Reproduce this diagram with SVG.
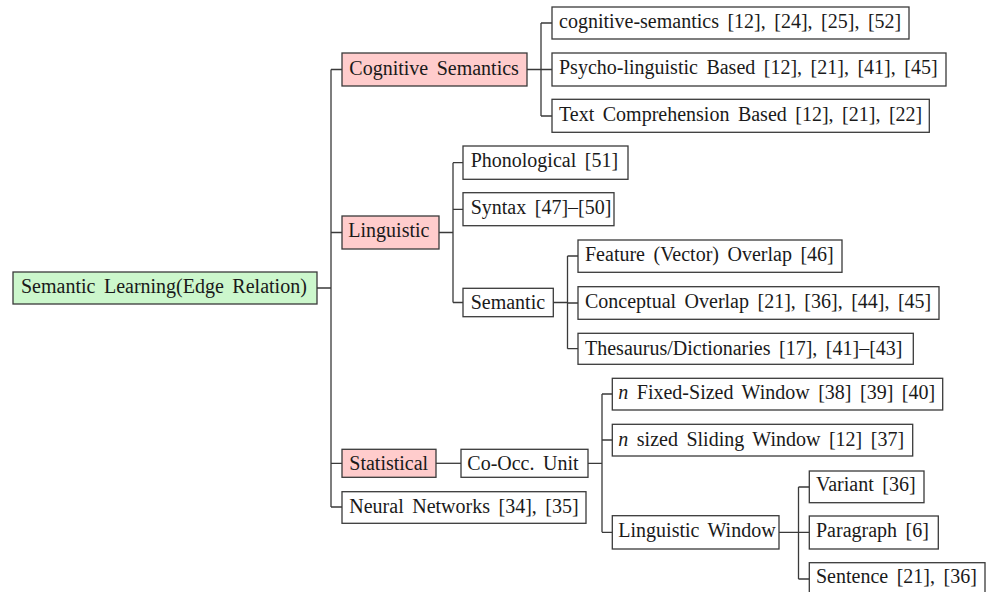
<svg xmlns="http://www.w3.org/2000/svg" width="994" height="592" viewBox="0 0 994 592">
<style>
  .n rect { fill: #ffffff; stroke: #3a3a3a; stroke-width: 1.3; }
  .n.red rect { fill: #ffcccc; }
  .n.green rect { fill: #ccf7cc; }
  .n text { font-family: "Liberation Serif", "Times New Roman", serif; font-size: 20px; word-spacing: 3.5px; fill: #1a1a1a; }
  .e path { fill: none; stroke: #3a3a3a; stroke-width: 1.3; }
  .i { font-style: italic; }
</style>
<rect width="994" height="592" fill="#ffffff"/>
<g class="e" id="connectors">
  <path d="M317,288 H331 M331,69.5 V507 M331,69.5 H342 M331,232.5 H342 M331,463.3 H342 M331,507 H342"/>
  <path d="M527,69.5 H541 M541,23 V116 M541,23 H552 M541,69.5 H552 M541,116 H552"/>
  <path d="M439,232.5 H453 M453,162.7 V302.5 M453,162.7 H463 M453,209.3 H463 M453,302.5 H463"/>
  <path d="M553,302.5 H567.5 M567.5,256 V348.7 M567.5,256 H578 M567.5,303 H578 M567.5,348.7 H578"/>
  <path d="M436,463.3 H461"/>
  <path d="M588,463.3 H602 M602,394 V532.3 M602,394 H612 M602,440 H612 M602,532.3 H612"/>
  <path d="M779,532.3 H798.5 M798.5,487 V579 M798.5,487 H809 M798.5,532.3 H809 M798.5,579 H809"/>
</g>
<g class="n green" id="root"><rect x="13" y="272" width="304" height="32"/><text x="21" y="293.3">Semantic Learning(Edge Relation)</text></g>
<g class="n red" id="cog"><rect x="342" y="53" width="185" height="33"/><text x="349.3" y="74.5">Cognitive Semantics</text></g>
<g class="n" id="cog1"><rect x="552" y="7" width="357" height="32"/><text x="559" y="28.3">cognitive-semantics [12], [24], [25], [52]</text></g>
<g class="n" id="cog2"><rect x="552" y="53" width="394" height="33"/><text x="559" y="74">Psycho-linguistic Based [12], [21], [41], [45]</text></g>
<g class="n" id="cog3"><rect x="552" y="99.3" width="377.3" height="33"/><text x="559" y="120.7">Text Comprehension Based [12], [21], [22]</text></g>
<g class="n red" id="ling"><rect x="342" y="216" width="97" height="33"/><text x="348.3" y="237.3">Linguistic</text></g>
<g class="n" id="phon"><rect x="463" y="146" width="165" height="33.3"/><text x="470.7" y="167.3">Phonological [51]</text></g>
<g class="n" id="syn"><rect x="463" y="192.7" width="151" height="33"/><text x="470.7" y="214">Syntax [47]–[50]</text></g>
<g class="n" id="sem"><rect x="463" y="288.3" width="90.3" height="28.4"/><text x="470.7" y="309.3">Semantic</text></g>
<g class="n" id="feat"><rect x="578" y="240" width="264" height="32.3"/><text x="585" y="260.7">Feature (Vector) Overlap [46]</text></g>
<g class="n" id="conc"><rect x="578" y="286.7" width="361" height="32.6"/><text x="585" y="307.7">Conceptual Overlap [21], [36], [44], [45]</text></g>
<g class="n" id="thes"><rect x="578" y="333.3" width="335.3" height="31"/><text x="585" y="355">Thesaurus/Dictionaries [17], [41]–[43]</text></g>
<g class="n red" id="stat"><rect x="342" y="449.3" width="94" height="28"/><text x="349.3" y="470">Statistical</text></g>
<g class="n" id="cooc"><rect x="461" y="449.3" width="127" height="28"/><text x="467.3" y="470">Co-Occ. Unit</text></g>
<g class="n" id="nn"><rect x="342" y="491.7" width="244" height="31.6"/><text x="349.3" y="512.7">Neural Networks [34], [35]</text></g>
<g class="n" id="fixed"><rect x="612.3" y="378.3" width="330.4" height="31.7"/><text x="618.3" y="399.3"><tspan class="i">n</tspan> Fixed-Sized Window [38] [39] [40]</text></g>
<g class="n" id="slide"><rect x="612.3" y="424.3" width="300.4" height="31.7"/><text x="618.3" y="446"><tspan class="i">n</tspan> sized Sliding Window [12] [37]</text></g>
<g class="n" id="lw"><rect x="612.3" y="515.7" width="166.7" height="33.3"/><text x="618.3" y="537.3">Linguistic Window</text></g>
<g class="n" id="var"><rect x="809.3" y="471" width="114.7" height="31.7"/><text x="816" y="491">Variant [36]</text></g>
<g class="n" id="para"><rect x="809.3" y="516" width="129" height="33"/><text x="816" y="537.3">Paragraph [6]</text></g>
<g class="n" id="sent"><rect x="809.3" y="562.7" width="175.7" height="32.3"/><text x="816" y="583.3">Sentence [21], [36]</text></g>
</svg>
